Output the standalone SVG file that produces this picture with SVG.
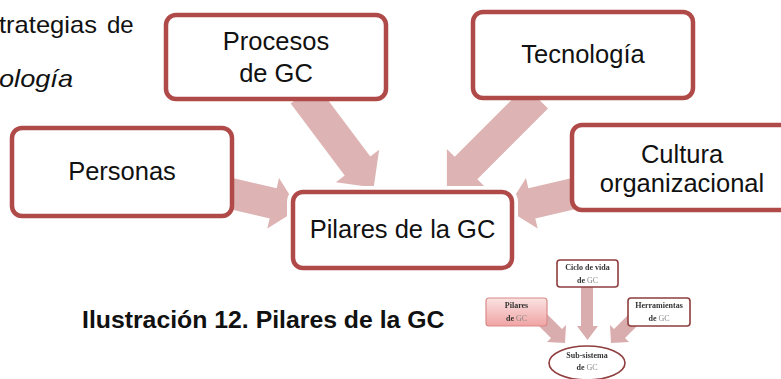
<svg xmlns="http://www.w3.org/2000/svg" width="781" height="379" viewBox="0 0 781 379">
  <defs>
    <style>
      .box { fill: #ffffff; stroke: #b04a48; stroke-width: 4.5; }
      .halo { fill: #ffffff; stroke: #ffffff; stroke-width: 12; }
      .arrow { fill: #ddb3b3; stroke: none; }
      .lbl { font-family: "Liberation Sans", Arial, sans-serif; font-size: 25.5px; fill: #111111; text-anchor: middle; }
      .body { font-family: "Liberation Sans", Arial, sans-serif; font-size: 24px; fill: #111111; }
      .cap { font-family: "Liberation Sans", Arial, sans-serif; font-size: 24.8px; font-weight: bold; fill: #111111; }
      .sbox { fill: #ffffff; stroke: #8f3d3d; stroke-width: 1.6; }
      .sarrow { fill: #d9adad; }
      .stxt { font-family: "Liberation Serif", "Times New Roman", serif; font-size: 8px; font-weight: bold; fill: #333333; text-anchor: middle; }
      .gc { fill: #8a8a8a; font-weight: normal; }
    </style>
    <linearGradient id="pinkFill" x1="0" y1="0" x2="0" y2="1">
      <stop offset="0" stop-color="#fbe3e3"/>
      <stop offset="1" stop-color="#f0a3a3"/>
    </linearGradient>
    <filter id="soft" x="-5%" y="-5%" width="110%" height="110%">
      <feGaussianBlur stdDeviation="0.35"/>
    </filter>
  </defs>

  <rect width="781" height="379" fill="#ffffff"/>

  <!-- running body text above the figure -->
  <text class="body" x="-1" y="33" textLength="98" lengthAdjust="spacingAndGlyphs">trategias</text>
  <text class="body" x="107" y="33">de</text>
  <text class="body" x="-1" y="87" font-style="italic" textLength="74" lengthAdjust="spacingAndGlyphs">ología</text>

  <!-- block arrows pointing to the central node -->
  <g id="connectors">
    <polygon class="arrow" points="316.3,84.4 370.3,156.4 379.1,149.8 373.7,187.6 335.9,182.2 344.7,175.6 290.7,103.6"/>
    <polygon class="arrow" points="548,108.6 477.3,179.3 485.1,187.1 446.9,187.1 446.9,148.9 454.7,156.7 525.4,86"/>
    <polygon class="arrow" points="205,171.6 276.7,188.2 279,178 298.5,209.1 267.3,228.6 269.7,218.4 198,201.8"/>
    <polygon class="arrow" points="600,171.6 528.3,188.2 526,178 506.5,209.1 537.7,228.6 535.3,218.4 607,201.8"/>
  </g>

  <g id="procesos">
    <rect class="box" x="166" y="15" width="220" height="84" rx="10"/>
    <text class="lbl" x="276" y="50">Procesos</text>
    <text class="lbl" x="276" y="82">de GC</text>
  </g>

  <g id="tecnologia">
    <rect class="box" x="473" y="12" width="220" height="86" rx="10"/>
    <text class="lbl" x="583" y="63">Tecnología</text>
  </g>

  <g id="personas">
    <rect class="box" x="12" y="128" width="220" height="88" rx="10"/>
    <text class="lbl" x="122" y="180">Personas</text>
  </g>

  <g id="cultura">
    <rect class="box" x="572" y="125" width="220" height="85" rx="10"/>
    <text class="lbl" x="682" y="163">Cultura</text>
    <text class="lbl" x="682" y="192">organizacional</text>
  </g>

  <g id="pilares">
    <rect class="halo" x="293" y="192" width="219" height="76" rx="10"/>
    <rect class="box" x="293" y="192" width="219" height="76" rx="10"/>
    <text class="lbl" x="402.5" y="238">Pilares de la GC</text>
  </g>

  <!-- figure caption -->
  <text class="cap" x="82" y="328">Ilustración 12. Pilares de la GC</text>

  <!-- small sub-system thumbnail -->
  <g id="subsistema" filter="url(#soft)">
    <g id="sub-connectors">
      <polygon class="sarrow" points="581,287 593,287 593,326 598,326 587.5,340 577,326 581,326"/>
      <polygon class="sarrow" points="536,323 547,314 562,329 566,325 565,343 547,342 551,338"/>
      <polygon class="sarrow" points="629,314 640,323 625,338 629,342 611,343 610,325 614,329"/>
    </g>
    <g id="sub-ciclo">
      <rect class="sbox" x="557" y="260" width="61" height="27" rx="3"/>
      <text class="stxt" x="587.5" y="270">Ciclo de vida</text>
      <text class="stxt" x="587.5" y="283">de <tspan class="gc">GC</tspan></text>
    </g>
    <g id="sub-pilares">
      <rect x="486" y="298" width="61" height="28" rx="3" fill="url(#pinkFill)" stroke="#d98a8a" stroke-width="1.2"/>
      <text class="stxt" x="516.5" y="308">Pilares</text>
      <text class="stxt" x="516.5" y="321">de <tspan class="gc">GC</tspan></text>
    </g>
    <g id="sub-herramientas">
      <rect class="sbox" x="628" y="298" width="62" height="28" rx="3"/>
      <text class="stxt" x="659" y="308">Herramientas</text>
      <text class="stxt" x="659" y="321">de <tspan class="gc">GC</tspan></text>
    </g>
    <g id="sub-nucleo">
      <ellipse class="sbox" cx="587" cy="363" rx="38" ry="17"/>
      <text class="stxt" x="587" y="358">Sub-sistema</text>
      <text class="stxt" x="587" y="370">de <tspan class="gc">GC</tspan></text>
    </g>
  </g>
</svg>
